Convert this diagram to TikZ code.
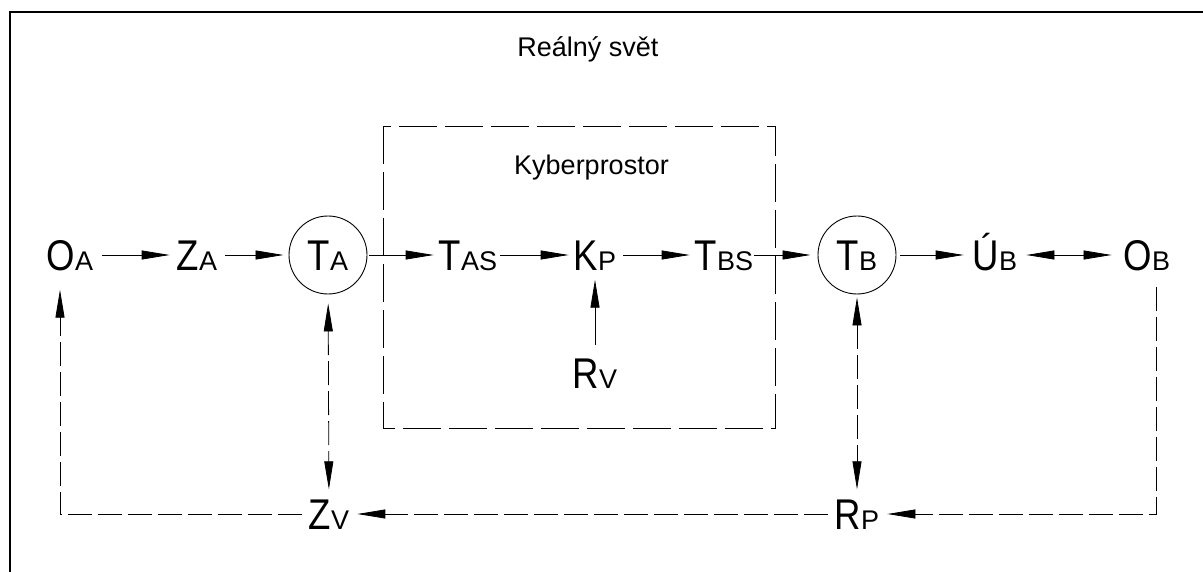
\documentclass[tikz,border=0pt]{standalone}
\usepackage{fontspec}
\setmainfont{Liberation Sans}
\newfontfamily\narrowfont[FakeStretch=0.85]{Liberation Sans}
\usetikzlibrary{arrows.meta}
\newcommand\Lbig[1]{{\narrowfont\fontsize{43}{43}\selectfont #1}}
\newcommand\Lsm[1]{{\fontsize{27}{27}\selectfont #1}}
\newcommand\Lab[2]{\Lbig{#1}\Lsm{#2}}
\begin{document}
\begin{tikzpicture}[x=1pt,y=-1pt,
  lab/.style={inner sep=0pt, text height=31pt, text depth=0pt},
  circ/.style={circle, draw, line width=0.9pt, minimum size=78pt, inner sep=0pt, text height=31pt, text depth=0pt},
  arr/.style={line width=0.8pt, -{Triangle[length=28pt,width=9pt]}},
  darr/.style={line width=0.8pt, {Triangle[length=28pt,width=9pt]}-{Triangle[length=28pt,width=9pt]}},
  fb/.style={dash pattern=on 24pt off 6pt},
  boxdash/.style={line width=0.8pt, dash pattern=on 38pt off 8pt},
  title/.style={font=\fontsize{27}{27}\selectfont, inner sep=0pt, anchor=base}]
\useasboundingbox (0,0) rectangle (1203,572);
% frame
\draw[line width=1.3pt] (10,572) -- (10,12) -- (1203,12);
% cyberspace box
\draw[boxdash] (383,126) rectangle (775,428);
\node[title] (real) at (588,57) {Reálný svět};
\node[title] (kyber) at (591.5,175) {Kyberprostor};
% nodes
\node[lab] (OA) at (70,255) {\Lab{O}{A}};
\node[lab] (ZA) at (197,255) {\Lab{Z}{A}};
\node[circ] (TA) at (328,255) {\Lab{T}{A}};
\node[lab] (TAS) at (468,255) {\Lab{T}{AS}};
\node[lab] (KP) at (595,255) {\Lab{K}{P}};
\node[lab] (TBS) at (724,255) {\Lab{T}{BS}};
\node[circ] (TB) at (857,255) {\Lab{T}{B}};
\node[lab] (UB) at (995,255) {\Lab{Ú}{B}};
\node[lab] (OB) at (1147,255) {\Lab{O}{B}};
\node[lab] (RV) at (595,372.5) {\Lab{R}{V}};
\node[lab] (ZV) at (329,514) {\Lab{Z}{V}};
\node[lab] (RP) at (857,514) {\Lab{R}{P}};
\coordinate (cl) at (60,514);
\coordinate (cr) at (1156,514);
% main row
\draw[arr, shorten <=9pt, shorten >=7pt] (OA) -- (ZA);
\draw[arr, shorten <=8pt, shorten >=5pt] (ZA) -- (TA);
\draw[arr, shorten <=2pt, shorten >=5pt] (TA) -- (TAS);
\draw[arr, shorten <=3pt, shorten >=5pt] (TAS) -- (KP);
\draw[arr, shorten <=7pt, shorten >=5pt] (KP) -- (TBS);
\draw[arr, shorten <=1pt, shorten >=7pt] (TBS) -- (TB);
\draw[arr, shorten <=4pt, shorten >=9pt] (TB) -- (UB);
\draw[darr, shorten <=9pt, shorten >=12pt] (UB) -- (OB);
\draw[arr, shorten <=12pt, shorten >=9pt] (RV) -- (KP);
% vertical double arrows
\draw[darr, fb, shorten <=9pt, shorten >=9pt] (TA) -- (ZV);
\draw[darr, fb, shorten <=3pt, shorten >=9pt] (TB) -- (RP);
% feedback
\draw[arr, fb, shorten <=7pt, shorten >=19pt] (ZV.west) -- (cl) -- (cl |- OA.south);
\draw[arr, fb, shorten <=16pt, shorten >=8pt] (cr |- OB.south) -- (cr) -- (RP.east);
\draw[arr, fb, shorten <=7pt, shorten >=8pt] (RP.west) -- (ZV.east);
\end{tikzpicture}
\end{document}
